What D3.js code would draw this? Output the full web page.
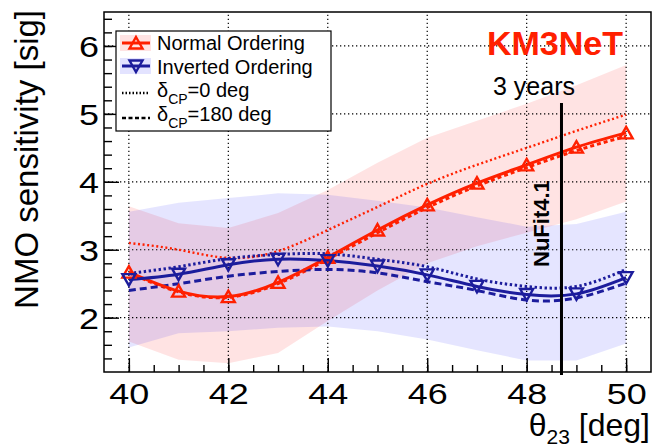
<!DOCTYPE html>
<html lang="en">
<head>
<meta charset="UTF-8">
<title>NMO sensitivity</title>
<script src="https://cdn.jsdelivr.net/npm/d3@7"></script>
<style>
    body { margin: 0; background: #fff; }
    svg { display: block; font-family: "Liberation Sans", Arial, Helvetica, sans-serif; }
</style>
</head>
<body>
<script>
    // theta23 values (deg)
    var theta = [40, 41, 42, 43, 44, 45, 46, 47, 48, 49, 50];
    // normal ordering
    var noMain = [2.67, 2.39, 2.31, 2.52, 2.89, 3.29, 3.66, 3.98, 4.25, 4.51, 4.72];
    var noDcp0 = [3.10, 3.00, 2.88, 2.98, 3.29, 3.63, 3.97, 4.25, 4.50, 4.75, 4.99];
    var noDcp180 = [2.66, 2.38, 2.30, 2.50, 2.86, 3.25, 3.62, 3.94, 4.21, 4.46, 4.67];
    var noLow = [1.65, 1.38, 1.33, 1.48, 1.95, 2.40, 2.80, 3.05, 3.25, 3.45, 3.71];
    var noHigh = [3.64, 3.39, 3.32, 3.54, 3.88, 4.28, 4.65, 4.90, 5.15, 5.42, 5.72];
    // inverted ordering
    var ioMain = [2.56, 2.64, 2.78, 2.86, 2.84, 2.76, 2.63, 2.46, 2.34, 2.35, 2.59];
    var ioDcp0 = [2.65, 2.75, 2.87, 2.93, 2.94, 2.86, 2.75, 2.57, 2.46, 2.46, 2.71];
    var ioDcp180 = [2.40, 2.50, 2.61, 2.68, 2.71, 2.66, 2.53, 2.40, 2.26, 2.29, 2.51];
    var ioLow = [1.56, 1.77, 1.80, 1.85, 1.87, 1.80, 1.68, 1.52, 1.37, 1.37, 1.62];
    var ioHigh = [3.56, 3.69, 3.76, 3.83, 3.81, 3.72, 3.62, 3.48, 3.34, 3.38, 3.56];

    var xTicks = [40, 42, 44, 46, 48, 50];
    var yTicks = [2, 3, 4, 5, 6];
    var nufitTheta = 48.7;

    var red = "#ff2000", blue = "#1c1c9c";
    var W = 652, H = 447;

    var svg = d3.select("body").append("svg").attr("width", W).attr("height", H);

    var x = d3.scaleLinear().domain([39.5, 50.5]).range([104, 651]);
    var y = d3.scaleLinear().domain([1.2, 6.5]).range([372, 12]);

    // bands
    function band(lo, hi) {
        return d3.area()
            .x(function (d, i) { return x(theta[i]); })
            .y0(function (d, i) { return y(lo[i]); })
            .y1(function (d, i) { return y(hi[i]); })(theta);
    }
    svg.append("path").attr("d", band(noLow, noHigh)).attr("fill", "#ff0000").attr("fill-opacity", 0.11);
    svg.append("path").attr("d", band(ioLow, ioHigh)).attr("fill", "#0000ff").attr("fill-opacity", 0.1);

    // grid
    var grid = svg.append("g").attr("stroke", "#000").attr("stroke-width", 1.2).attr("stroke-dasharray", "1.3,2.7");
    grid.selectAll(".gx").data(xTicks).enter().append("line")
        .attr("x1", function (d) { return x(d); }).attr("x2", function (d) { return x(d); })
        .attr("y1", y.range()[0]).attr("y2", y.range()[1]);
    grid.selectAll(".gy").data(yTicks).enter().append("line")
        .attr("y1", function (d) { return y(d); }).attr("y2", function (d) { return y(d); })
        .attr("x1", x.range()[0]).attr("x2", x.range()[1]);

    // axes, ticks point inward
    var xMinor = d3.range(40, 50.01, 0.5);
    var yMinor = d3.range(1.4, 6.41, 0.2);
    var gx = svg.append("g").attr("transform", "translate(0,372)");
    gx.call(d3.axisBottom(x).tickValues(xMinor).tickSize(-7).tickFormat(""));
    gx.append("g").call(d3.axisBottom(x).tickValues(xTicks).tickSize(-14).tickPadding(11).tickFormat(d3.format("d")));
    var gy = svg.append("g").attr("transform", "translate(104,0)");
    gy.call(d3.axisLeft(y).tickValues(yMinor).tickSize(-8).tickFormat(""));
    gy.append("g").call(d3.axisLeft(y).tickValues(yTicks).tickSize(-15).tickPadding(5).tickFormat(d3.format("d")));
    svg.selectAll(".domain").remove();
    svg.selectAll(".tick line").attr("stroke", "#000").attr("stroke-width", 1.4);
    svg.selectAll(".tick text").attr("font-size", 29).attr("fill", "#000")
        .attr("font-family", "Liberation Sans, Arial, sans-serif").attr("lengthAdjust", "spacingAndGlyphs");
    gx.selectAll(".tick text").attr("dy", "0.71em").attr("textLength", 40);
    gy.selectAll(".tick text").attr("dy", "0.36em").attr("textLength", 20);

    // frame
    svg.append("rect").attr("x", 104).attr("y", 12).attr("width", 547).attr("height", 360)
        .attr("fill", "none").attr("stroke", "#000").attr("stroke-width", 1.5);

    // curves
    var line = d3.line().curve(d3.curveNatural)
        .x(function (d, i) { return x(theta[i]); })
        .y(function (d) { return y(d); });
    function curve(vals, color, w, dash) {
        svg.append("path").attr("d", line(vals)).attr("fill", "none")
            .attr("stroke", color).attr("stroke-width", w)
            .attr("stroke-dasharray", dash);
    }
    curve(noDcp0, red, 2.4, "2,2.6");
    curve(noDcp180, red, 3, "4,3");
    curve(ioDcp0, blue, 3, "2.4,2.6");
    curve(ioDcp180, blue, 3, "7,4");
    curve(noMain, red, 3, null);
    curve(ioMain, blue, 3, null);

    var triUp = "M0,-6L6.5,5.5L-6.5,5.5Z", triDown = "M0,6L6.5,-5.5L-6.5,-5.5Z";
    function markers(vals, color, path) {
        svg.append("g").selectAll("path").data(vals).enter().append("path")
            .attr("d", path)
            .attr("transform", function (d, i) { return "translate(" + x(theta[i]) + "," + y(d) + ")"; })
            .attr("fill", "none").attr("stroke", color).attr("stroke-width", 2.4);
    }
    markers(noMain, red, triUp);
    markers(ioMain, blue, triDown);

    // NuFit line
    svg.append("line").attr("x1", x(nufitTheta)).attr("x2", x(nufitTheta))
        .attr("y1", 103).attr("y2", 375).attr("stroke", "#000").attr("stroke-width", 3);
    svg.append("text").attr("transform", "translate(" + (x(nufitTheta) - 12) + ",267) rotate(-90)")
        .attr("font-size", 22).attr("font-weight", "bold").text("NuFit4.1");
    svg.append("text").attr("x", 534).attr("y", 95).attr("text-anchor", "middle")
        .attr("font-size", 25).text("3 years");
    svg.append("text").attr("x", 623).attr("y", 55).attr("text-anchor", "end")
        .attr("font-size", 34).attr("font-weight", "bold").attr("fill", red).text("KM3NeT");

    // axis titles
    svg.append("text").attr("transform", "translate(38,10) rotate(-90)").attr("text-anchor", "end")
        .attr("font-size", 33).text("NMO sensitivity [sig]");
    var xt = svg.append("text").attr("x", 650).attr("y", 436).attr("text-anchor", "end").attr("font-size", 32);
    xt.append("tspan").text("θ");
    xt.append("tspan").attr("font-size", 21).attr("dy", 8).text("23");
    xt.append("tspan").attr("dy", -8).text(" [deg]");

    // legend
    var leg = svg.append("g");
    leg.append("rect").attr("x", 116).attr("y", 31).attr("width", 215).attr("height", 100)
        .attr("fill", "#fff").attr("stroke", "#000").attr("stroke-width", 1.2);
    var legRows = [
        { label: "Normal Ordering", color: red, fill: "#ff0000", mark: triUp, dash: null, base: 50, ly: 43 },
        { label: "Inverted Ordering", color: blue, fill: "#0000ff", mark: triDown, dash: null, base: 74, ly: 66 },
        { label: "0 deg", color: "#000", fill: null, mark: null, dash: "1.5,2", base: 97, ly: 93 },
        { label: "180 deg", color: "#000", fill: null, mark: null, dash: "4,2.5", base: 121, ly: 118 }
    ];
    legRows.forEach(function (r) {
        if (r.fill) {
            leg.append("rect").attr("x", 120).attr("y", r.ly - 8).attr("width", 31).attr("height", 16)
                .attr("fill", r.fill).attr("fill-opacity", 0.11);
        }
        leg.append("line").attr("x1", 122).attr("x2", 150).attr("y1", r.ly).attr("y2", r.ly)
            .attr("stroke", r.color).attr("stroke-width", r.fill ? 3 : 2.4).attr("stroke-dasharray", r.dash);
        if (r.mark) {
            leg.append("path").attr("d", r.mark).attr("transform", "translate(136," + r.ly + ")")
                .attr("fill", "none").attr("stroke", r.color).attr("stroke-width", 2.4);
        }
        var t = leg.append("text").attr("x", 157).attr("y", r.base).attr("font-size", 20);
        if (r.fill) {
            t.text(r.label);
        } else {
            t.append("tspan").text("δ");
            t.append("tspan").attr("font-size", 14).attr("dy", 7).text("CP");
            t.append("tspan").attr("dy", -7).text("=" + r.label);
        }
    });
</script>
</body>
</html>
